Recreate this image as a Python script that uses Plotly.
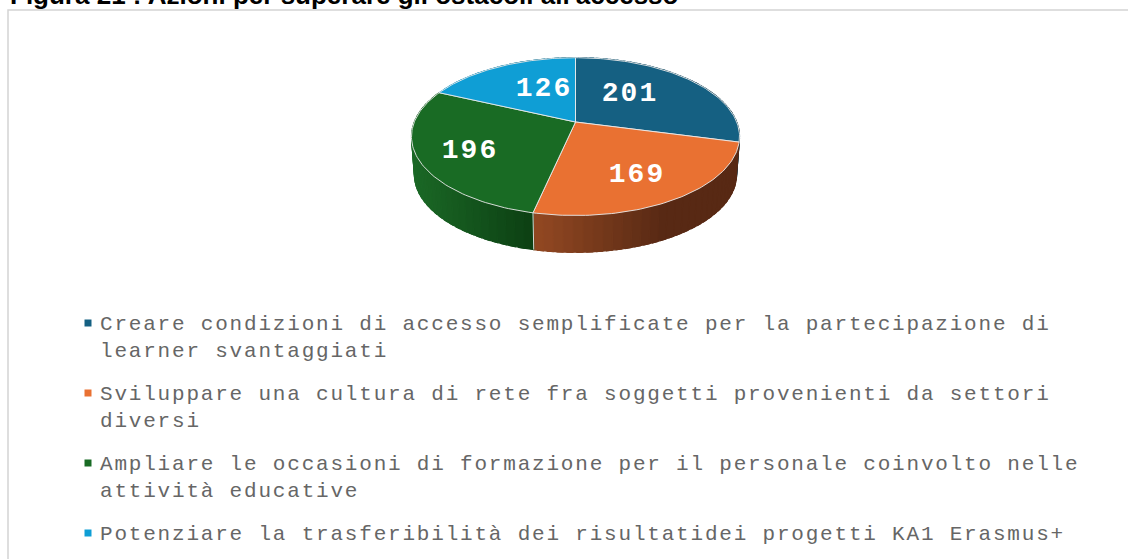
import math
import plotly.graph_objects as go

# ---- data ----
categories = [
    "Creare condizioni di accesso semplificate per la partecipazione di<br>learner svantaggiati",
    "Sviluppare una cultura di rete fra soggetti provenienti da settori<br>diversi",
    "Ampliare le occasioni di formazione per il personale coinvolto nelle<br>attività educative",
    "Potenziare la trasferibilità dei risultatidei progetti KA1 Erasmus+",
]
values = [201, 169, 196, 126]
title_text = "Figura 21 : Azioni per superare gli ostacoli all'accesso"

# ---- style ----
top_colors = ["#156082", "#E97132", "#196B24", "#0F9ED5"]
wall_left = [(20, 90, 120), (146, 72, 34), (27, 104, 38), (15, 150, 200)]
wall_right = [(14, 60, 80), (88, 41, 20), (12, 62, 18), (10, 100, 130)]
label_xy = [(630, 94), (637, 174.5), (470, 151), (544, 89)]
legend_y = [323, 393, 463, 533]
CX, CY, RX, RY, K = 575.5, 122.0, 161.2, 76.2, 0.185
DEPTH, SHRINK = 38.5, 0.982
EDGE = "rgba(235,235,235,0.9)"


def project(a, r=1.0, lower=False):
    u, v = math.sin(a) * r, math.cos(a) * r
    d = 1 + K * v
    x, y = RX * u / d, -RY * v / d
    if lower:
        x *= SHRINK
        y = y * SHRINK + DEPTH
    return CX + x, CY + y


def lerp(c1, c2, t):
    t = max(0, min(1, t))
    return "rgb(%d,%d,%d)" % tuple(round(a + (b - a) * t) for a, b in zip(c1, c2))


total = sum(values)
edges = [0.0]
for val in values:
    edges.append(edges[-1] + val / total * 2 * math.pi)

fig = go.Figure()

# side walls, painted first so the top face covers the back part
for i in range(len(values)):
    a0, a1 = edges[i], edges[i + 1]
    n = max(8, int((a1 - a0) * 20))
    xs_all = [project(a0 + (a1 - a0) * j / n)[0] for j in range(n + 1)]
    x_min, x_max = min(xs_all), max(xs_all)
    for j in range(n):
        s0 = a0 + (a1 - a0) * j / n
        s1 = a0 + (a1 - a0) * (j + 1.6) / n
        s1 = min(s1, a1)
        p = [project(s0), project(s1), project(s1, lower=True), project(s0, lower=True)]
        mid = (p[0][0] + p[1][0]) / 2
        t = (mid - x_min) / max(1, x_max - x_min)
        if i == 1:
            t = t / 0.62
        col = lerp(wall_left[i], wall_right[i], t)
        fig.add_trace(go.Scatter(
            x=[q[0] for q in p] + [p[0][0]], y=[q[1] for q in p] + [p[0][1]],
            mode="lines", fill="toself", fillcolor=col,
            line=dict(color=col, width=1.2), hoverinfo="skip"))

# light seam where the walls of two slices meet at the front
seam_a = edges[2]
fig.add_trace(go.Scatter(
    x=[project(seam_a)[0], project(seam_a, lower=True)[0]],
    y=[project(seam_a)[1], project(seam_a, lower=True)[1]],
    mode="lines", line=dict(color=EDGE, width=1), hoverinfo="skip"))

# top faces
for i in range(len(values)):
    a0, a1 = edges[i], edges[i + 1]
    n = 80
    arc = [project(a0 + (a1 - a0) * j / n) for j in range(n + 1)]
    xs = [CX] + [q[0] for q in arc] + [CX]
    ys = [CY] + [q[1] for q in arc] + [CY]
    fig.add_trace(go.Scatter(
        x=xs, y=ys, mode="lines", fill="toself", fillcolor=top_colors[i],
        line=dict(color=EDGE, width=1), name=categories[i], hoverinfo="skip"))

# value labels
fig.add_trace(go.Scatter(
    x=[p[0] for p in label_xy], y=[p[1] for p in label_xy],
    mode="text", text=[str(v) for v in values],
    textposition="middle center",
    textfont=dict(family="Liberation Mono", size=28, color="white", weight="bold"),
    hoverinfo="skip"))

# legend markers
fig.add_trace(go.Scatter(
    x=[88] * len(values), y=legend_y, mode="markers",
    marker=dict(symbol="square", size=7, color=top_colors, line=dict(width=0)),
    hoverinfo="skip"))

annotations = []
for label, y in zip(categories, legend_y):
    annotations.append(dict(
        x=98, y=y - 12, xref="x", yref="y", text=label, showarrow=False,
        xanchor="left", yanchor="top", align="left",
        font=dict(family="Liberation Mono", size=21, color="#666666")))
annotations.append(dict(
    x=8, y=12, xref="x", yref="y", text="<b>" + title_text + "</b>", showarrow=False,
    xanchor="left", yanchor="bottom", align="left",
    font=dict(family="Liberation Sans", size=26, color="#000000")))

frame_path = "M 1128 10 L 8 10 L 8 559"

fig.update_layout(
    width=1128, height=559,
    margin=dict(l=0, r=0, t=0, b=0),
    paper_bgcolor="white", plot_bgcolor="white",
    showlegend=False,
    xaxis=dict(range=[0, 1128], visible=False, fixedrange=True),
    yaxis=dict(range=[559, 0], visible=False, fixedrange=True),
    annotations=annotations,
    shapes=[dict(type="path", path=frame_path, xref="x", yref="y",
                 line=dict(color="#d4d4d4", width=1.5), layer="below")],
)

post = """
document.documentElement.style.overflow='hidden';
document.body.style.margin='0';
document.querySelectorAll('.annotation-text').forEach(function(e){
  if(e.style.fontFamily.indexOf('Mono')>=0){e.style.letterSpacing='1.8px';}
});
document.querySelectorAll('.textpoint text').forEach(function(e){e.style.letterSpacing='2px';});
"""
fig.write_html("out.html", post_script=post, config={"displayModeBar": False})
